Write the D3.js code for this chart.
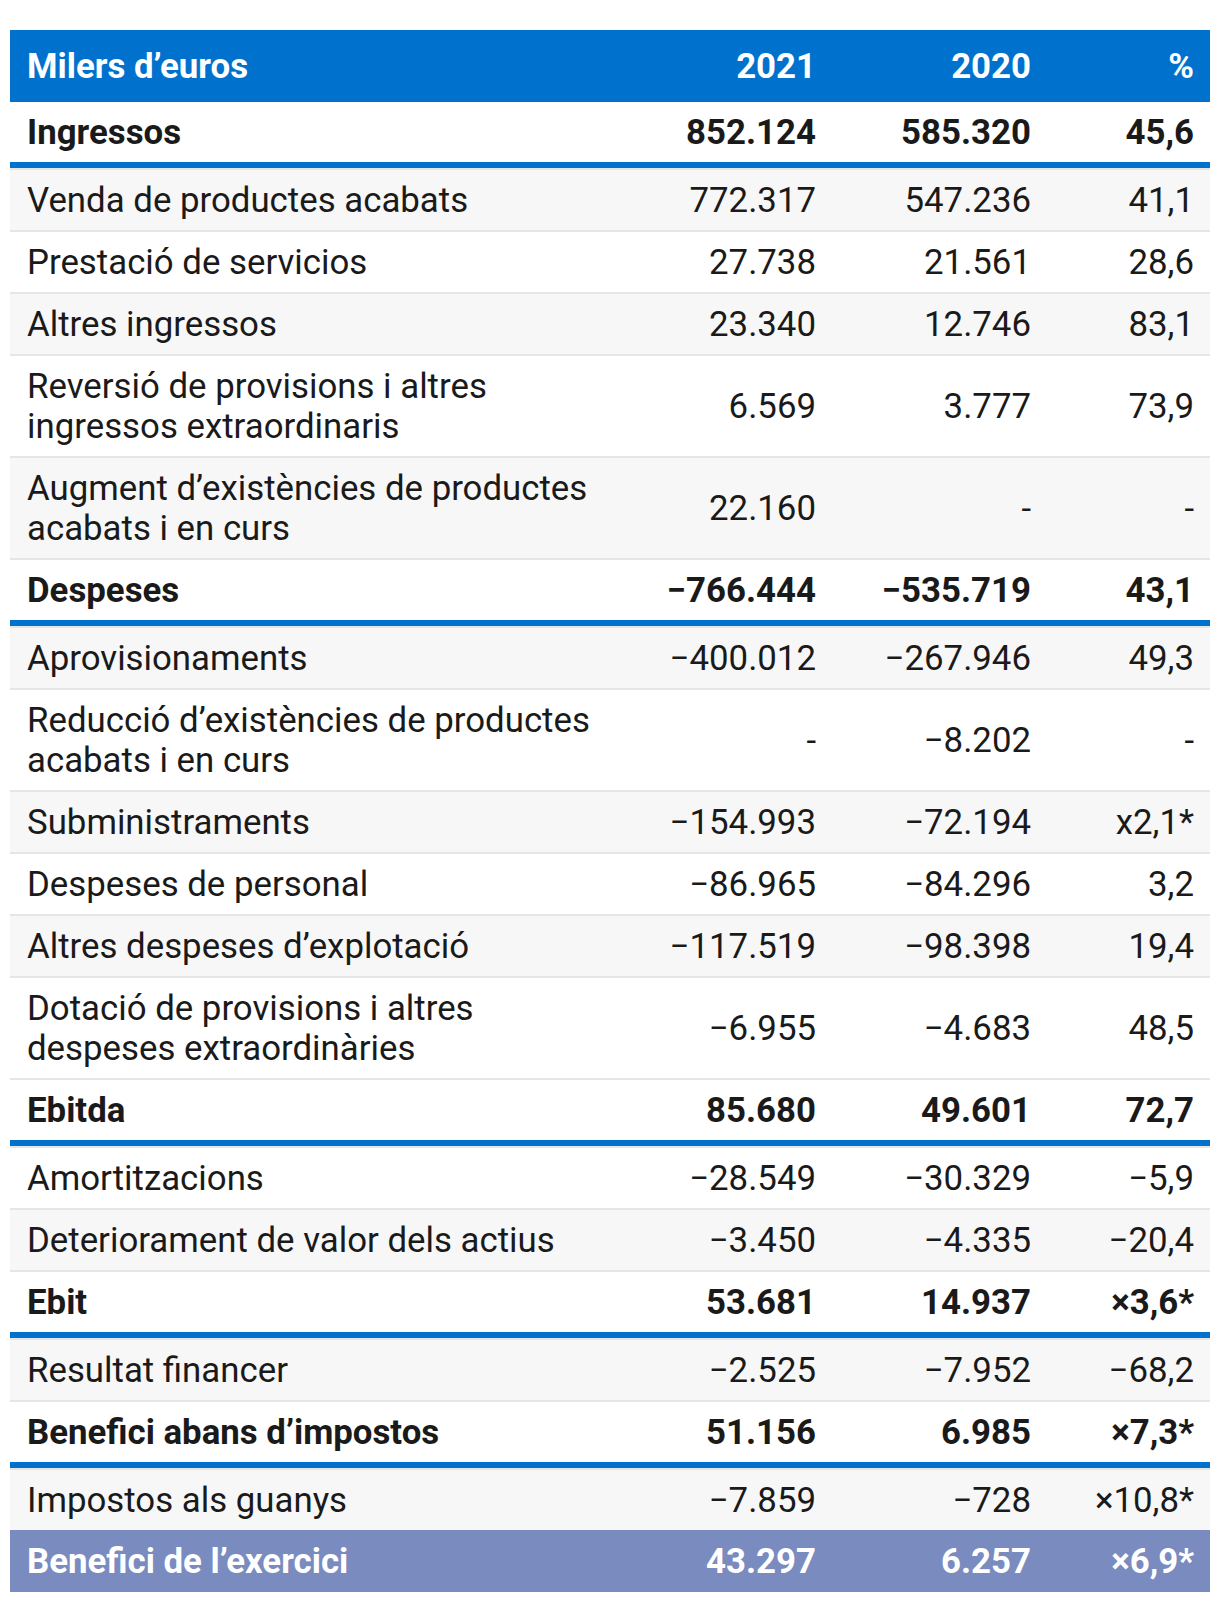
<!DOCTYPE html>
<html><head><meta charset="utf-8">
<script src="https://cdn.jsdelivr.net/npm/d3@7"></script>
<style>
body{margin:0;background:#fff}
svg{display:block}
text{font-family:Roboto,"Noto Sans",sans-serif}
</style>
</head><body><div id="chart"></div>
<script>
// ---------- data ----------
const columns = ["Milers d’euros", "2021", "2020", "%"];
const labels = [
  "Ingressos",
  "Venda de productes acabats",
  "Prestació de servicios",
  "Altres ingressos",
  "Reversió de provisions i altres\ningressos extraordinaris",
  "Augment d’existències de productes\nacabats i en curs",
  "Despeses",
  "Aprovisionaments",
  "Reducció d’existències de productes\nacabats i en curs",
  "Subministraments",
  "Despeses de personal",
  "Altres despeses d’explotació",
  "Dotació de provisions i altres\ndespeses extraordinàries",
  "Ebitda",
  "Amortitzacions",
  "Deteriorament de valor dels actius",
  "Ebit",
  "Resultat financer",
  "Benefici abans d’impostos",
  "Impostos als guanys",
  "Benefici de l’exercici"
];
const v2021 = ["852.124","772.317","27.738","23.340","6.569","22.160","−766.444","−400.012","-","−154.993","−86.965","−117.519","−6.955","85.680","−28.549","−3.450","53.681","−2.525","51.156","−7.859","43.297"];
const v2020 = ["585.320","547.236","21.561","12.746","3.777","-","−535.719","−267.946","−8.202","−72.194","−84.296","−98.398","−4.683","49.601","−30.329","−4.335","14.937","−7.952","6.985","−728","6.257"];
const pct   = ["45,6","41,1","28,6","83,1","73,9","-","43,1","49,3","-","x2,1*","3,2","19,4","48,5","72,7","−5,9","−20,4","×3,6*","−68,2","×7,3*","×10,8*","×6,9*"];
const rowKind = ["subtotal","item","item","item","item","item","subtotal","item","item","item","item","item","item","subtotal","item","item","subtotal","item","subtotal","item","total"];

// ---------- layout ----------
const W = 1220, H = 1602;
const leftX = 10, rightX = 1210, topY = 30;
const headerH = 72, baseH = 60, lineH = 40, fontSize = 34.8;
const C = {blue:"#0072ce", total:"#7a8bc0", stripe:"#f7f7f7", rule:"#e6e6e6", ink:"#1a1a1a"};

const colX = d3.scaleOrdinal()
  .domain(["label","y2021","y2020","pct"])
  .range([27, 816, 1031, 1194]);
const colAnchor = d3.scaleOrdinal()
  .domain(["label","y2021","y2020","pct"])
  .range(["start","end","end","end"]);
const keys = colX.domain();

const rows = labels.map((l, i) => ({
  lines: l.split("\n"),
  cells: [v2021[i], v2020[i], pct[i]],
  kind: rowKind[i],
  idx: i
}));
let yPos = topY + headerH;
rows.forEach((r, i) => {
  r.y = yPos;
  r.h = baseH + (r.lines.length - 1) * lineH;
  const next = rows[i + 1];
  if (r.kind === "subtotal") r.border = "blue";
  else if (r.kind === "total" || (next && next.kind === "total")) r.border = "none";
  else r.border = "thin";
  r.extra = r.border === "blue" ? 8 : r.border === "thin" ? 2 : 0;
  if (r.kind === "total") r.h += 2;
  yPos += r.h + r.extra;
});

const svg = d3.select("#chart").append("svg")
  .attr("width", W).attr("height", H);

// header
const head = svg.append("g");
head.append("rect").attr("x", leftX).attr("y", topY)
  .attr("width", rightX - leftX).attr("height", headerH).attr("fill", C.blue);
head.selectAll("text").data(columns).join("text")
  .attr("x", (d, i) => colX(keys[i]))
  .attr("y", topY + headerH / 2)
  .attr("dy", "0.35em")
  .attr("text-anchor", (d, i) => colAnchor(keys[i]))
  .attr("font-size", fontSize).attr("font-weight", 700)
  .attr("fill", "#fff")
  .text(d => d);

// rows
const g = svg.selectAll("g.row").data(rows).join("g").attr("class", "row")
  .attr("transform", d => `translate(0,${d.y})`);

g.append("rect")
  .attr("x", leftX).attr("width", rightX - leftX)
  .attr("height", d => d.h)
  .attr("fill", d => d.kind === "total" ? C.total
        : d.kind === "subtotal" ? "#fff"
        : (d.idx % 2 === 1 ? C.stripe : "#fff"));

g.filter(d => d.border === "thin").append("rect")
  .attr("x", leftX).attr("width", rightX - leftX)
  .attr("y", d => d.h).attr("height", 2).attr("fill", C.rule);
g.filter(d => d.border === "blue").append("rect")
  .attr("x", leftX).attr("width", rightX - leftX)
  .attr("y", d => d.h).attr("height", 6).attr("fill", C.blue);
g.filter(d => d.border === "blue").append("rect")
  .attr("x", leftX).attr("width", rightX - leftX)
  .attr("y", d => d.h + 6).attr("height", 2).attr("fill", C.rule);

const weight = d => d.kind === "item" ? 400 : 700;
const ink = d => d.kind === "total" ? "#fff" : C.ink;

g.each(function(d) {
  const row = d3.select(this);
  const n = d.lines.length;
  row.selectAll("text.lab").data(d.lines).join("text").attr("class", "lab")
    .attr("x", colX("label"))
    .attr("y", (t, j) => d.h / 2 + (j - (n - 1) / 2) * lineH)
    .attr("dy", "0.35em")
    .attr("font-size", fontSize).attr("font-weight", weight(d))
    .attr("fill", ink(d))
    .text(t => t);
  row.selectAll("text.num").data(d.cells).join("text").attr("class", "num")
    .attr("x", (t, j) => colX(keys[j + 1]))
    .attr("y", d.h / 2)
    .attr("dy", "0.35em")
    .attr("text-anchor", "end")
    .attr("font-size", fontSize).attr("font-weight", weight(d))
    .attr("fill", ink(d))
    .text(t => t);
});
</script>
</body></html>
